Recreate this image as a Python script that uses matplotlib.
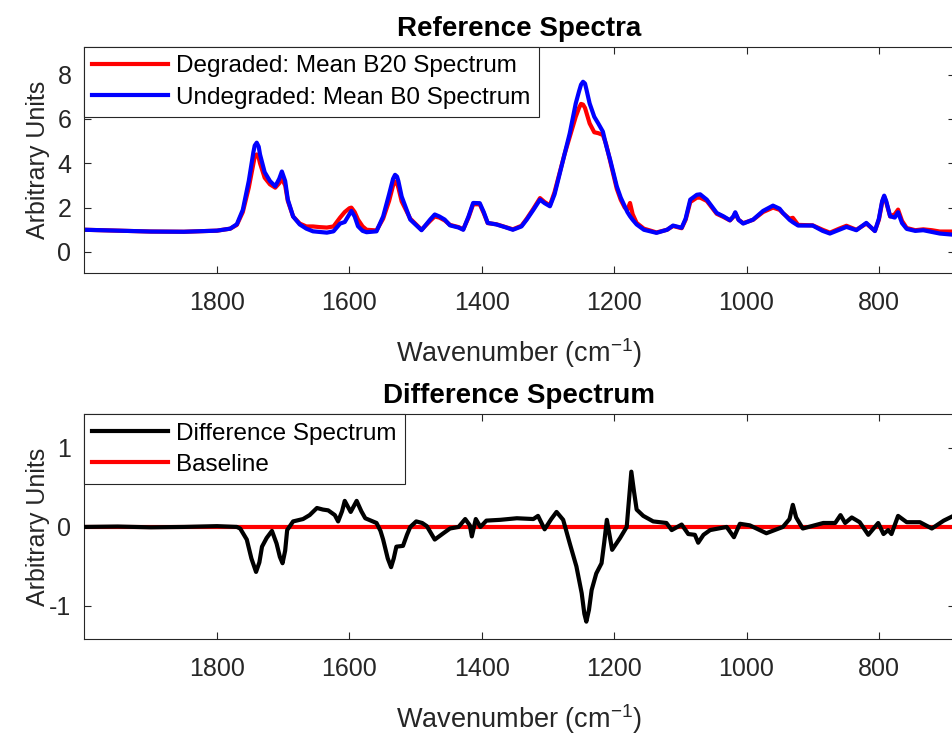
import matplotlib
matplotlib.use("Agg")
import matplotlib.pyplot as plt

# wavenumbers (cm-1) for the two mean spectra
wn = [2000, 1950, 1900, 1850, 1800, 1780, 1770, 1761, 1752, 1745, 1743, 1740, 1737, 1735,
      1728, 1720, 1712, 1706, 1702, 1697, 1693, 1685, 1675, 1665, 1655, 1645,
      1634, 1624, 1614, 1607, 1600, 1597, 1592, 1587, 1580, 1574, 1559, 1549,
      1540, 1534, 1531, 1528, 1526, 1521, 1508, 1491, 1478, 1471, 1464, 1456, 1448, 1435,
      1428, 1420, 1413, 1403, 1397, 1391, 1378, 1365, 1353, 1340, 1332, 1322,
      1312, 1305, 1297, 1290, 1282, 1275, 1267, 1258, 1253, 1250, 1247, 1244, 1242, 1237,
      1230, 1224, 1217, 1212, 1206, 1196, 1190, 1184, 1180, 1176, 1172, 1166,
      1155, 1136, 1120, 1111, 1098, 1092, 1085, 1075, 1070, 1060, 1045, 1035,
      1025, 1020, 1017, 1012, 1005, 990, 975, 960, 950, 945, 935, 930,
      922, 900, 885, 874, 860, 849, 834, 819, 806, 800, 795, 792, 789, 783,
      776, 771, 765, 758, 745, 733, 720, 708, 685]

b0 = [1.00, 0.96, 0.92, 0.91, 0.96, 1.05, 1.25, 1.90, 3.20, 4.50, 4.80, 4.93, 4.75, 4.40,
      3.60, 3.20, 2.96, 3.30, 3.63, 3.20, 2.36, 1.60, 1.24, 1.05, 0.93, 0.90,
      0.87, 0.93, 1.28, 1.35, 1.70, 1.85, 1.60, 1.16, 0.95, 0.89, 0.93, 1.60,
      2.60, 3.30, 3.48, 3.40, 3.20, 2.50, 1.46, 0.98, 1.46, 1.69, 1.60, 1.46, 1.20, 1.10,
      1.00, 1.60, 2.21, 2.20, 1.80, 1.31, 1.24, 1.12, 1.00, 1.15, 1.46, 1.90,
      2.36, 2.20, 2.06, 2.60, 3.56, 4.40, 5.36, 6.70, 7.25, 7.55, 7.68, 7.60, 7.35, 6.70,
      6.10, 5.80, 5.43, 4.80, 4.16, 2.96, 2.45, 2.06, 1.80, 1.61, 1.45, 1.24,
      1.00, 0.86, 1.00, 1.19, 1.09, 1.50, 2.36, 2.58, 2.60, 2.36, 1.76, 1.61,
      1.43, 1.60, 1.79, 1.45, 1.28, 1.46, 1.85, 2.09, 1.95, 1.76, 1.45, 1.34,
      1.19, 1.19, 0.95, 0.83, 1.00, 1.13, 0.98, 1.31, 0.94, 1.50, 2.30, 2.54, 2.30, 1.61,
      1.55, 1.79, 1.30, 1.04, 0.95, 0.98, 0.90, 0.83, 0.77]

b20 = [1.00, 0.96, 0.92, 0.91, 0.96, 1.05, 1.22, 1.80, 2.90, 4.00, 4.30, 4.40, 4.25, 4.00,
       3.35, 3.05, 2.90, 3.10, 3.30, 3.00, 2.30, 1.60, 1.28, 1.15, 1.15, 1.12,
       1.10, 1.15, 1.55, 1.80, 1.97, 2.00, 1.80, 1.46, 1.15, 1.00, 0.97, 1.50,
       2.30, 3.00, 3.18, 3.10, 2.90, 2.28, 1.50, 1.00, 1.40, 1.60, 1.55, 1.42, 1.22, 1.12,
       1.02, 1.55, 2.15, 2.15, 1.75, 1.30, 1.25, 1.13, 1.02, 1.18, 1.50, 1.95,
       2.43, 2.25, 2.10, 2.70, 3.60, 4.40, 5.20, 6.10, 6.50, 6.68, 6.65, 6.50, 6.30, 5.80,
       5.40, 5.36, 5.28, 4.85, 4.10, 2.85, 2.35, 2.00, 1.90, 2.21, 1.70, 1.31,
       1.05, 0.88, 1.00, 1.17, 1.07, 1.45, 2.25, 2.45, 2.45, 2.30, 1.72, 1.58,
       1.42, 1.58, 1.75, 1.45, 1.30, 1.45, 1.80, 2.00, 1.90, 1.75, 1.50, 1.54,
       1.22, 1.20, 1.00, 0.87, 1.05, 1.18, 1.00, 1.28, 0.95, 1.45, 2.25, 2.50, 2.25, 1.60,
       1.70, 1.91, 1.40, 1.08, 0.98, 1.02, 0.98, 0.92, 0.92]

# difference spectrum (degraded - undegraded)
wn_diff = [2000, 1950, 1900, 1850, 1800, 1770, 1765, 1755, 1748, 1741, 1736, 1732,
           1725, 1717, 1710, 1705, 1701, 1697, 1694, 1685, 1670, 1660, 1649, 1640,
           1632, 1622, 1617, 1611, 1607, 1598, 1589, 1582, 1576, 1559, 1553, 1549,
           1542, 1537, 1533, 1529, 1519, 1513, 1508, 1499, 1490, 1483, 1471, 1458,
           1448, 1435, 1425, 1418, 1415, 1409, 1402, 1393, 1372, 1347, 1322, 1315,
           1305, 1295, 1287, 1277, 1267, 1257, 1249, 1245, 1242, 1238, 1234, 1227,
           1219, 1215, 1211, 1207, 1203, 1191, 1181, 1177, 1174, 1170, 1166, 1156,
           1141, 1121, 1113, 1098, 1088, 1078, 1073, 1065, 1055, 1030, 1019, 1010,
           995, 970, 945, 935, 930, 925, 915, 884, 866, 858, 851, 841,
           829, 816, 801, 793, 786, 781, 771, 758, 738, 720, 702, 685]

diff = [0.00, 0.005, -0.005, 0.00, 0.01, 0.00, -0.02, -0.16, -0.40, -0.57, -0.45, -0.25,
        -0.14, -0.05, -0.21, -0.38, -0.46, -0.30, -0.04, 0.07, 0.10, 0.15, 0.24, 0.22,
        0.21, 0.15, 0.07, 0.20, 0.33, 0.19, 0.33, 0.20, 0.11, 0.05, -0.05, -0.16,
        -0.40, -0.51, -0.40, -0.25, -0.24, -0.10, 0.00, 0.07, 0.05, 0.01, -0.16, -0.08,
        -0.02, 0.00, 0.10, 0.02, -0.12, 0.10, 0.00, 0.08, 0.09, 0.11, 0.10, 0.14,
        -0.03, 0.10, 0.19, 0.09, -0.21, -0.50, -0.84, -1.10, -1.20, -1.05, -0.80, -0.59,
        -0.46, -0.20, 0.09, -0.10, -0.29, -0.14, 0.00, 0.40, 0.70, 0.45, 0.22, 0.14,
        0.07, 0.05, -0.04, 0.03, -0.09, -0.10, -0.20, -0.10, -0.04, 0.00, -0.13, 0.04,
        0.02, -0.08, 0.00, 0.10, 0.28, 0.12, -0.02, 0.05, 0.05, 0.15, 0.05, 0.12,
        0.06, -0.10, 0.05, -0.09, -0.04, -0.09, 0.14, 0.06, 0.06, -0.02, 0.08, 0.15]

baseline_wn = [2000, 685]
baseline = [0, 0]

xticks = [1800, 1600, 1400, 1200, 1000, 800]

plt.rcParams["font.family"] = ["Liberation Sans", "DejaVu Sans"]
plt.rcParams["mathtext.fontset"] = "custom"
plt.rcParams["mathtext.rm"] = "Liberation Sans"
plt.rcParams["mathtext.it"] = "Liberation Sans"
plt.rcParams["axes.unicode_minus"] = False

gray = "#262626"
xlabel = r"Wavenumber (cm$^{\mathrm{-1}}$)"


def style_axes(ax, yticks, ylim):
    ax.set_xlim(2001, 685)
    ax.set_ylim(*ylim)
    ax.set_xticks(xticks)
    ax.set_yticks(yticks)
    ax.tick_params(direction="in", top=True, right=True, length=5, width=0.8,
                   colors=gray, labelsize=18, pad=13)
    ax.tick_params(axis="y", pad=9)
    for sp in ax.spines.values():
        sp.set_color(gray)
        sp.set_linewidth(0.8)
    ax.set_xlabel(xlabel, fontsize=19.5, color=gray, labelpad=15)
    ax.set_ylabel("Arbitrary Units", fontsize=18, color=gray)
    ax.yaxis.set_label_coords(-0.039, 0.5)


def add_legend(ax):
    leg = ax.legend(loc="upper left", fontsize=17.5, frameon=True, fancybox=False,
                    framealpha=1, edgecolor=gray, borderaxespad=0, borderpad=0.35,
                    handlelength=3.1, handletextpad=0.35, labelspacing=0.37)
    leg.get_frame().set_linewidth(0.8)


fig = plt.figure(figsize=(9.53, 7.34), dpi=100)

ax1 = fig.add_axes([0.0881, 0.6281, 0.914, 0.3079])
ax1.plot(wn, b20, color="red", lw=3, solid_joinstyle="round", label="Degraded: Mean B20 Spectrum")
ax1.plot(wn, b0, color="blue", lw=3, solid_joinstyle="round", label="Undegraded: Mean B0 Spectrum")
style_axes(ax1, [0, 2, 4, 6, 8], (-0.95, 9.25))
ax1.set_title("Reference Spectra", fontsize=20, fontweight="bold", pad=8)
add_legend(ax1)

ax2 = fig.add_axes([0.0881, 0.1294, 0.914, 0.3065])
ax2.plot(wn_diff, diff, color="black", lw=3, zorder=3, solid_joinstyle="round",
         label="Difference Spectrum")
ax2.plot(baseline_wn, baseline, color="red", lw=3, zorder=2, label="Baseline")
style_axes(ax2, [-1, 0, 1], (-1.42, 1.43))
ax2.set_title("Difference Spectrum", fontsize=20, fontweight="bold", pad=8)
add_legend(ax2)

fig.savefig("out.png", dpi=100)
